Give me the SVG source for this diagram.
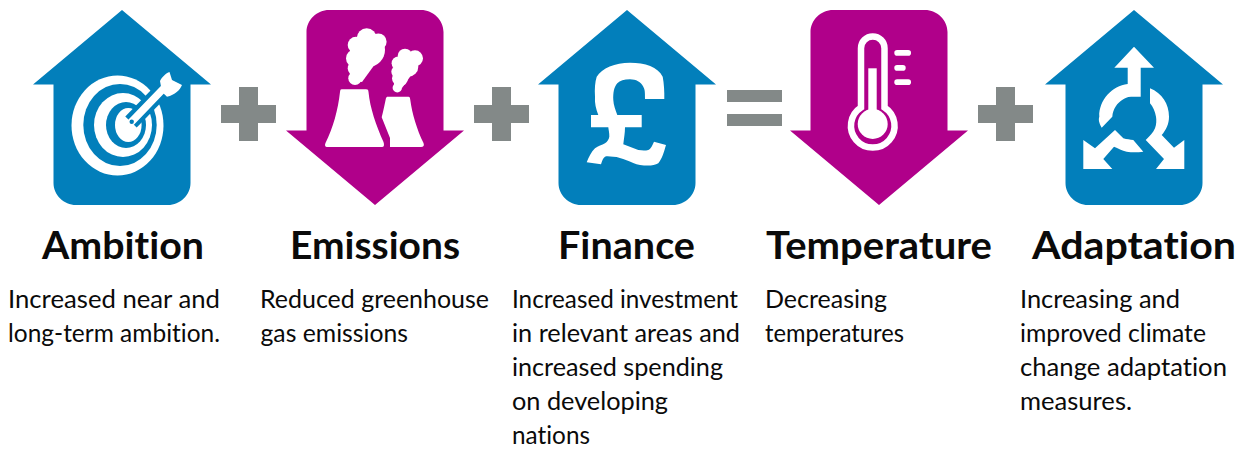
<svg xmlns="http://www.w3.org/2000/svg" width="1243" height="449" viewBox="0 0 1243 449">
<style>
.up{fill:#027fbb}.down{fill:#b0008a}.op{fill:#838988}.w{fill:#fff}
.ws{fill:none;stroke:#fff}
text{font-family:"Lato","Liberation Sans",sans-serif;fill:#0a0a0a;font-variant-ligatures:none;font-feature-settings:"liga" 0}
.t{font-size:38px;font-weight:700}
.b{font-size:24.500px;font-weight:400}
</style>
<defs>
<path id="house" d="M0 0L89 74.500H68.500V173C68.500 185 58 195 46 195H-46C-58 195 -68.500 185 -68.500 173V74.500H-89Z"/>
<path id="arrow" d="M0 195L89 120.500H68.500V22C68.500 10 58 0 46 0H-46C-58 0 -68.500 10 -68.500 22V120.500H-89Z"/>
<path id="plus" d="M18 0H37V18H55V36H37V54H18V36H0V18H18Z"/>
</defs>
<g id="ambition">
<use href="#house" x="122" y="10" class="up"/>
<ellipse class="w" cx="117.500" cy="125.500" rx="46" ry="50"/>
<ellipse class="up" cx="120" cy="125" rx="36.700" ry="41"/>
<ellipse class="w" cx="123" cy="125" rx="29" ry="32"/>
<ellipse class="up" cx="126" cy="125" rx="20" ry="23"/>
<ellipse class="w" cx="128.300" cy="125" rx="13.300" ry="17"/>
<path d="M131 122L168 84" stroke="#027fbb" stroke-width="16" fill="none"/>
<path d="M131.700 121.700L166 86" stroke="#fff" stroke-width="7.500" stroke-linecap="round" fill="none"/>
<circle cx="131.700" cy="121.700" r="2.200" class="up"/>
<path d="M160 81C162 77 166 73 169.500 72L172 80L182 85C180 90 175 95 167 96.700L162 92Z" class="w"/>
<text class="t" x="42" y="259" textLength="162" lengthAdjust="spacingAndGlyphs">Ambition</text>
<text class="b" x="8" y="308" textLength="212" lengthAdjust="spacingAndGlyphs">Increased near and</text>
<text class="b" x="8" y="342" textLength="212" lengthAdjust="spacingAndGlyphs">long-term ambition.</text>
</g>
<g id="plus-1"><use href="#plus" x="221" y="87" class="op"/></g>
<g id="emissions">
<use href="#arrow" x="375" y="10" class="down"/>
<path class="w" d="M341.700 89.300H366C368 89.300 368.300 90 368.500 92C370 108 376 125 383.500 142C384.500 145 384 147 382 147H327C325 147 324.500 145 325.500 143C333 128 338 110 340 92C340.300 90 340.500 89.300 341.700 89.300Z"/>
<path class="w" d="M387 96.700H408.500C410 96.700 410 98 410.300 100C412 113 417 130 423.500 143C424.500 145.500 423.500 147 421 147H390V138L381.700 117.300C383.500 110 385 103 386 98Z"/>
<g class="w">
<circle cx="366.700" cy="38.300" r="10"/><circle cx="378.300" cy="41.700" r="8.300"/><circle cx="356" cy="45" r="8.300"/><circle cx="368" cy="50" r="17"/><circle cx="355" cy="58.300" r="9"/><circle cx="355" cy="68.300" r="7.300"/><circle cx="360" cy="66.700" r="10"/><circle cx="355" cy="78.300" r="6.700"/>
<path d="M350 40L386 42L378 60L362 82L350 80Z"/>
<circle cx="405" cy="56" r="7.300"/><circle cx="415" cy="58.300" r="8"/><circle cx="398.300" cy="63.300" r="6.700"/><circle cx="408.300" cy="66.700" r="10"/><circle cx="397.300" cy="71.700" r="6"/><circle cx="400" cy="78.300" r="8"/><circle cx="397.300" cy="87.700" r="4.700"/>
<path d="M394 60L420 58L412 74L402 88L394 86Z"/>
</g>
<text class="t" x="290" y="259" textLength="170" lengthAdjust="spacingAndGlyphs">Emissions</text>
<text class="b" x="260" y="308" textLength="229" lengthAdjust="spacingAndGlyphs">Reduced greenhouse</text>
<text class="b" x="260.500" y="342" textLength="147.500" lengthAdjust="spacingAndGlyphs">gas emissions</text>
</g>
<g id="plus-2"><use href="#plus" x="474" y="87" class="op"/></g>
<g id="finance">
<use href="#house" x="627" y="10" class="up"/>
<path class="w" d="M664.300 99H645C645 92 645 90 643.300 86.700C641 82 636 79.300 630 79.300C624 79.300 620 80.500 617.300 83.300C614 87 613 93 613.300 100C613.500 105 615.500 110 617.300 115H641.700V127.300H625C625 133 624 138 623.300 144.300L638.300 150C642 150.500 645 150.800 648.300 150C651 149 652.500 145 654 141.700L666 145C664 152 662 159 658.300 163.300C654 166 647 166 640 165C631 163 622 157 613.300 156.700C610 156.500 607 156 605 156.700C603 158 602 161 601 164.300L586.700 162.300C589 157 591 152 595 148.300C598 146 602 145 605 143.300C607.500 141.500 609 139 609.300 136.700C609.500 133 608.500 130 608.300 127.300H591V115H598.300C596 109 594.500 103 595 96.700C594.500 89 595 82 596.700 76.700C602 68 615 62.700 630 62.700C645 62.700 658 67 662.700 76.700C664 83 664.500 92 664.300 99Z"/>
<text class="t" x="558" y="259" textLength="137" lengthAdjust="spacingAndGlyphs">Finance</text>
<text class="b" x="512" y="308" textLength="226" lengthAdjust="spacingAndGlyphs">Increased investment</text>
<text class="b" x="512" y="342" textLength="228" lengthAdjust="spacingAndGlyphs">in relevant areas and</text>
<text class="b" x="512" y="376" textLength="211" lengthAdjust="spacingAndGlyphs">increased spending</text>
<text class="b" x="512" y="410" textLength="156" lengthAdjust="spacingAndGlyphs">on developing</text>
<text class="b" x="512" y="444" textLength="78" lengthAdjust="spacingAndGlyphs">nations</text>
</g>
<g id="equals"><rect x="727" y="90" width="55" height="12" class="op"/><rect x="727" y="114" width="55" height="12" class="op"/></g>
<g id="temperature">
<use href="#arrow" x="879" y="10" class="down"/>
<path class="ws" stroke-width="6.500" d="M861 107.400V48.200A11.750 11.750 0 0 1 884.500 48.200V107.400A21.800 21.800 0 1 1 861 107.400Z"/>
<circle class="w" cx="872.700" cy="124" r="15"/>
<rect class="w" x="868.300" y="68.300" width="8.400" height="50"/>
<rect class="w" x="894.300" y="50" width="16.700" height="5.700" rx="2.800"/>
<rect class="w" x="894.300" y="65" width="11.400" height="5.700" rx="2.800"/>
<rect class="w" x="894.300" y="79.300" width="16.700" height="5.700" rx="2.800"/>
<text class="t" x="766" y="259" textLength="226" lengthAdjust="spacingAndGlyphs">Temperature</text>
<text class="b" x="765" y="308" textLength="122" lengthAdjust="spacingAndGlyphs">Decreasing</text>
<text class="b" x="765" y="342" textLength="139" lengthAdjust="spacingAndGlyphs">temperatures</text>
</g>
<g id="plus-3"><use href="#plus" x="978" y="87" class="op"/></g>
<g id="adaptation">
<use href="#house" x="1134" y="10" class="up"/>
<path class="w" d="M1134 46.700L1154 67.700H1140.700V96.700H1131C1127 97 1125 98 1123.300 99.300C1117 103 1113 109 1112.300 116.700L1101.700 127.700C1098.500 122 1098.500 119 1099.300 116.700C1099 100 1112 86 1127.700 84V67.700H1114.300Z"/>
<path class="w" d="M1150 88.300C1162 93 1169 104 1169 116.700C1169 124 1166 130 1161.700 135L1174 147.700L1184.300 140V169H1156L1164 159L1145.700 140C1150 136 1153 133 1155 128.300C1156.500 124 1156.500 120 1156 116.700C1155 111 1153 107 1150 103.300Z"/>
<path class="w" d="M1083.300 140L1095 148.300L1115 130L1123.300 138.300C1127 139.500 1130 139.500 1133.300 140L1143.300 151.700C1137 152.500 1132 152.500 1126.700 151.700C1122 150.500 1118 148.500 1114 146.700L1103.300 159L1112.300 169H1083.300Z"/>
<text class="t" x="1032" y="259" textLength="204" lengthAdjust="spacingAndGlyphs">Adaptation</text>
<text class="b" x="1020" y="308" textLength="160" lengthAdjust="spacingAndGlyphs">Increasing and</text>
<text class="b" x="1020" y="342" textLength="186" lengthAdjust="spacingAndGlyphs">improved climate</text>
<text class="b" x="1020" y="376" textLength="207" lengthAdjust="spacingAndGlyphs">change adaptation</text>
<text class="b" x="1020" y="410" textLength="112" lengthAdjust="spacingAndGlyphs">measures.</text>
</g>
</svg>
